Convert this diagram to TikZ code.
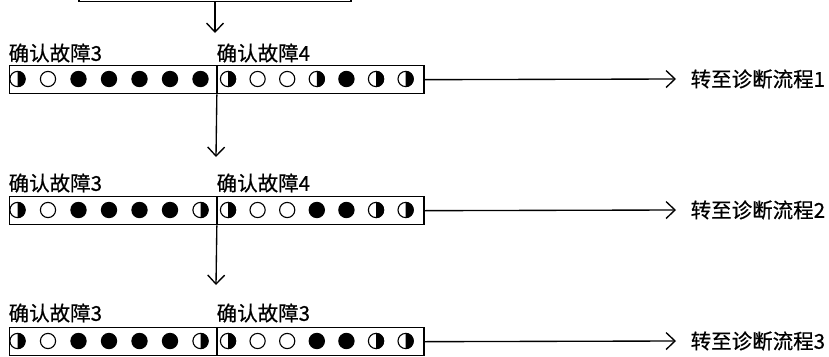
\documentclass[tikz,border=0pt]{standalone}
\usepackage{fontspec}
\usepackage{tikz}
\usetikzlibrary{positioning,arrows.meta}
\newfontfamily\cjk[AutoFakeBold=0.6]{Noto Sans CJK SC}
% fault state dots
\newcommand{\dotf}[1]{\fill (#1) circle[radius=8.2];}
\newcommand{\doto}[1]{\draw[line width=1.1pt] (#1) circle[radius=7.6];}
\newcommand{\doth}[1]{\fill (#1) ++(0,-8.2) arc[start angle=-90,end angle=90,radius=8.2] -- cycle;
  \draw[line width=1.1pt] (#1) circle[radius=7.6];}
\newcommand{\dotrow}[4]{\foreach \s [count=\i from 0] in {#4} {\csname dot\s\endcsname{{#1+\i*#3},#2}}}

\begin{document}
\begin{tikzpicture}[x=1pt,y=-1pt,line width=1.35pt,
  every node/.style={font=\cjk\bfseries\fontsize{20.5}{22}\selectfont},
  cell/.style={draw,minimum width=206.5pt,minimum height=28pt,inner sep=0pt},
  tag/.style={inner sep=0pt,anchor=west},
  flow/.style={-{Straight Barb[length=9pt,width=17pt,line width=1.35pt]}}]
  \useasboundingbox (0,0) rectangle (829,356);
  \clip (0,0) rectangle (829,356);
  \node[draw,minimum width=272pt,minimum height=40pt,inner sep=0pt,anchor=south] (prev) at (215,2) {};
  \coordinate (v1) at (215,33);
  \draw[flow] (prev.south) -- (v1);
  % row 1
  \node[cell,anchor=north west] (r1a) at (9,65) {};
  \node[cell,anchor=west] (r1b) at (r1a.east) {};
  \node[tag] (l1a) at (8,53) {确认故障3};
  \node[tag] (l1b) at (216,53) {确认故障4};
  \dotrow{17.5}{79}{30.5}{h,o,f,f,f,f,f}
  \dotrow{228}{79}{29.6}{h,o,o,h,f,h,h}
  \node[tag] (g1) at (690,79) {转至诊断流程1};
  \draw[flow] (r1b.east) -- ([xshift=-14pt]g1.west);
  \coordinate (v2) at (216,157);
  \draw[flow] (r1a.south east) -- (v2);
  % row 2
  \node[cell,anchor=north west] (r2a) at (9,196) {};
  \node[cell,anchor=west] (r2b) at (r2a.east) {};
  \node[tag] (l2a) at (8,183) {确认故障3};
  \node[tag] (l2b) at (216,183) {确认故障4};
  \dotrow{17.5}{210}{30.5}{h,o,f,f,f,f,h}
  \dotrow{228}{210}{29.6}{h,o,o,f,f,h,h}
  \node[tag] (g2) at (690,210) {转至诊断流程2};
  \draw[flow] (r2b.east) -- ([xshift=-14pt]g2.west);
  \coordinate (v3) at (216,285);
  \draw[flow] (r2a.south east) -- (v3);
  % row 3
  \node[cell,anchor=north west] (r3a) at (9,327) {};
  \node[cell,anchor=west] (r3b) at (r3a.east) {};
  \node[tag] (l3a) at (8,313) {确认故障3};
  \node[tag] (l3b) at (216,313) {确认故障3};
  \dotrow{17.5}{341}{30.5}{h,o,f,f,f,f,h}
  \dotrow{228}{341}{29.6}{h,o,o,f,f,h,h}
  \node[tag] (g3) at (690,341) {转至诊断流程3};
  \draw[flow] (r3b.east) -- ([xshift=-14pt]g3.west);
\end{tikzpicture}
\end{document}
